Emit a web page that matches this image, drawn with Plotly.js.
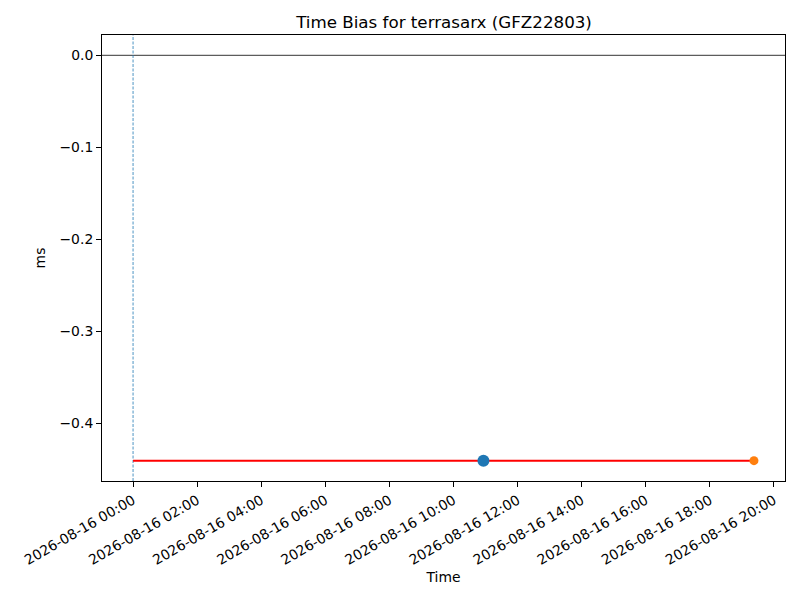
<!DOCTYPE html>
<html>
<head>
<meta charset="utf-8">
<script src="https://cdn.plot.ly/plotly-3.0.1.min.js"></script>
<style>html,body{margin:0;padding:0;background:#fff}#chart{width:800px;height:600px}</style>
</head>
<body>
<div id="chart"></div>
<script>
const lineTimes = ['2026-08-16 00:00:00', '2026-08-16 19:22:30'];
const lineValues = [-0.441, -0.441];
const meanTimes = ['2026-08-16 10:56:00'];
const meanValues = [-0.441];
const lastTimes = ['2026-08-16 19:22:30'];
const lastValues = [-0.441];
const startTime = '2026-08-16 00:00:00';
const zeroValue = 0;
const xRange = ['2026-08-15 23:01:52.5', '2026-08-16 20:20:37.5'];
const yRange = [-0.4631, 0.0221];

const font = {family: 'DejaVu Sans, sans-serif', size: 13.9, color: '#000'};

const traces = [
  {x: lineTimes, y: lineValues, mode: 'lines', line: {color: '#ff0000', width: 2}, hoverinfo: 'skip'},
  {x: meanTimes, y: meanValues, mode: 'markers', marker: {color: '#1f77b4', size: 12}},
  {x: lastTimes, y: lastValues, mode: 'markers', marker: {color: '#ff7f0e', size: 9}}
];

const layout = {
  width: 800, height: 600,
  margin: {l: 102, r: 15, t: 35, b: 119},
  paper_bgcolor: '#fff', plot_bgcolor: '#fff',
  showlegend: false,
  font: font,
  title: {text: 'Time Bias for terrasarx (GFZ22803)', font: {family: font.family, size: 16.7, color: '#000'}, x: 0.555, xanchor: 'center', y: 0.963, yanchor: 'middle'},
  xaxis: {
    type: 'date', range: xRange,
    tick0: startTime, dtick: 7200000, tickformat: '%Y-%m-%d %H:%M',
    tickangle: -30, ticks: 'outside', ticklen: 5, tickcolor: '#000', tickwidth: 1,
    showgrid: false, zeroline: false, showline: true, linecolor: '#000', linewidth: 1, mirror: true,
    title: {text: 'Time', font: font, standoff: 5},
    tickfont: font
  },
  yaxis: {
    range: yRange, dtick: 0.1, tick0: 0, tickformat: '.1f',
    ticks: 'outside', ticklen: 5, tickcolor: '#000', tickwidth: 1,
    showgrid: false, zeroline: false, showline: true, linecolor: '#000', linewidth: 1, mirror: true,
    title: {text: 'ms', font: font, standoff: 10},
    tickfont: font
  },
  shapes: [
    {type: 'line', xref: 'paper', x0: 0, x1: 1, yref: 'y', y0: zeroValue, y1: zeroValue, line: {color: '#000', width: 0.8}, layer: 'below'},
    {type: 'line', xref: 'x', x0: startTime, x1: startTime, yref: 'paper', y0: 0, y1: 1, line: {color: '#1f77b4', width: 0.8, dash: '3px,1.5px'}, layer: 'below'}
  ]
};

Plotly.newPlot('chart', traces, layout, {displayModeBar: false, staticPlot: true});
</script>
</body>
</html>
